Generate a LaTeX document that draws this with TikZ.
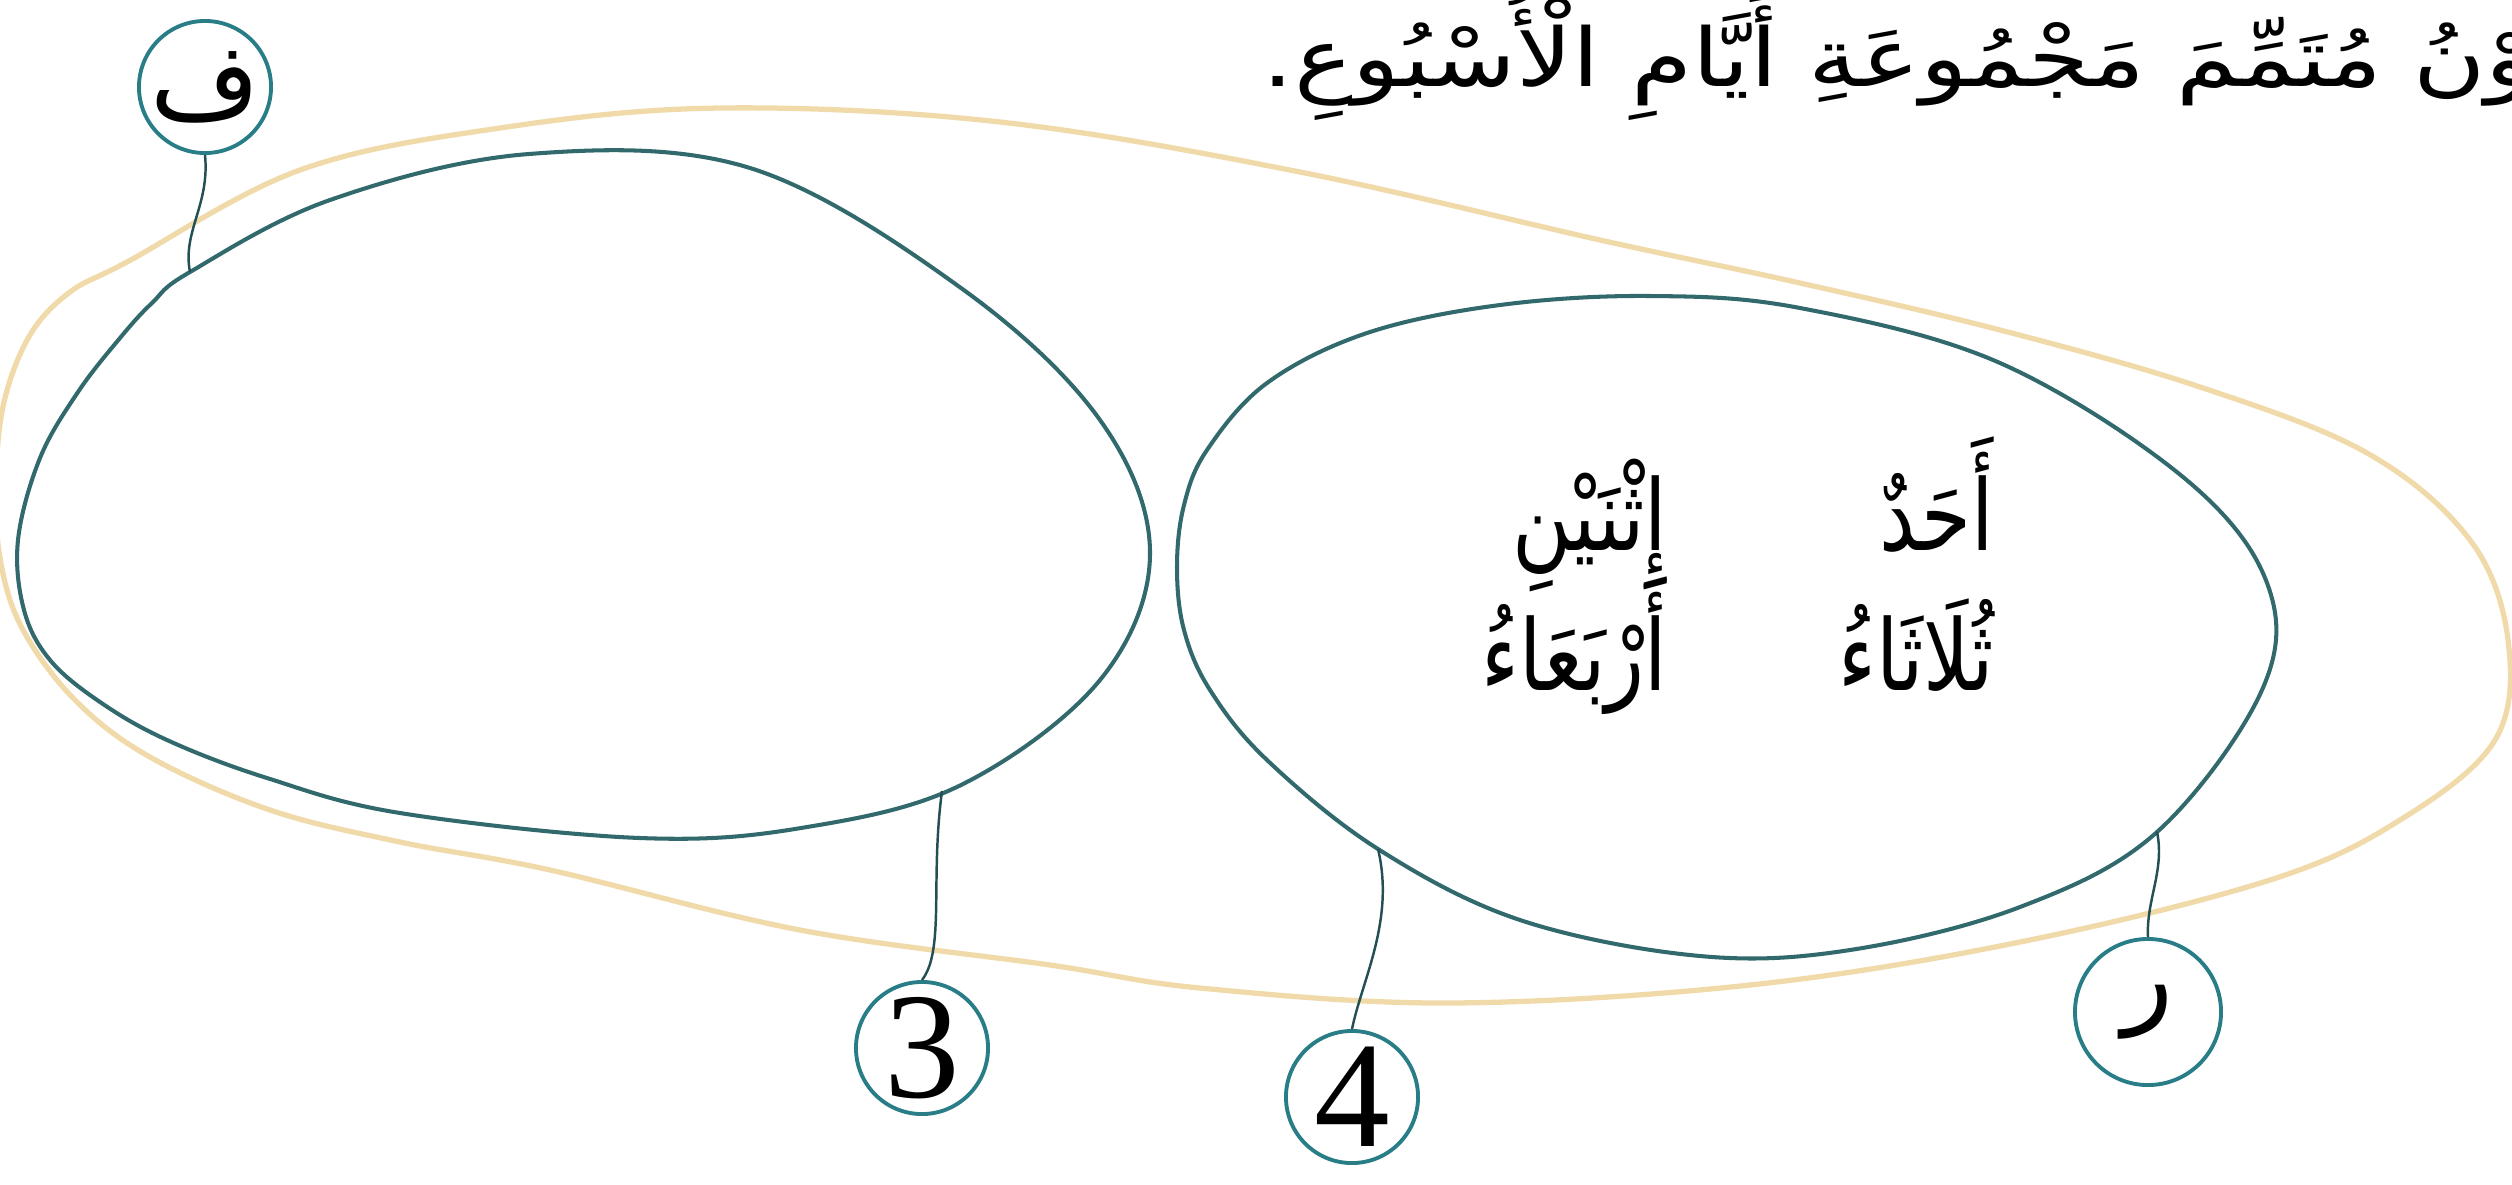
\documentclass[tikz,border=0pt]{standalone}
\usepackage{fontspec}
\newfontfamily\arabicfont[Script=Arabic]{DejaVu Sans}
\newfontfamily\headfont[Script=Arabic, FakeStretch=1.22]{DejaVu Sans}
\newfontfamily\wordfont[Script=Arabic, FakeStretch=0.82]{DejaVu Sans}
\newfontfamily\tagfont{Liberation Serif}
\TeXXeTstate=1
\usetikzlibrary{positioning}

\definecolor{ringteal}{RGB}{50,105,108}
\definecolor{tagteal}{RGB}{40,125,135}
\definecolor{hulltan}{RGB}{240,218,170}
\definecolor{leadteal}{RGB}{35,80,85}

\begin{document}
\begin{tikzpicture}[
  x=0.01cm, y=-0.01cm,
  hull/.style={draw=hulltan, line width=1.5pt},
  ring/.style={draw=ringteal, line width=1.15pt},
  tag/.style={circle, draw=tagteal, line width=1.1pt, minimum size=1.32cm, inner sep=0pt, font=\tagfont\fontsize{43}{43}\selectfont},
  lead/.style={draw=leadteal, line width=0.7pt},
  word/.style={font=\wordfont\fontsize{28}{32}\selectfont, anchor=base east, inner sep=0pt},
  headline/.style={font=\headfont\fontsize{23}{27}\selectfont, anchor=base west, inner sep=0pt}
]
  \useasboundingbox (0,0) rectangle (2512,1184);
  % outer set
  \draw[hull] plot[smooth cycle, tension=0.6] coordinates {(-4,480) (4,402) (30,335) (70,292) (127,262) (300,170) (500,128) (721,108) (1000,122) (1300,172) (1600,240) (1800,283) (2000,330) (2200,387) (2367,453) (2470,540) (2508,640) (2495,740) (2400,820) (2270,880) (2020,942) (1750,985) (1450,1003) (1200,988) (1050,965) (800,930) (550,870) (400,842) (270,810) (150,757) (75,700) (22,628) (0,558)};
  % left (empty) set
  \draw[ring] plot[smooth cycle, tension=0.6] coordinates {(18,540) (40,458) (78,392) (120,338) (152,303) (190,272) (330,200) (529,154) (750,168) (961,288) (1100,420) (1150,553) (1100,680) (961,785) (801,828) (640,838) (400,813) (267,778) (167,740) (100,702) (50,660) (24,610)};
  % right set
  \draw[ring] plot[smooth cycle, tension=0.6] coordinates {(1177,567) (1184,505) (1207,450) (1267,383) (1367,333) (1500,305) (1650,296) (1800,308) (2000,363) (2183,477) (2267,583) (2262,690) (2157,832) (2020,907) (1850,950) (1700,956) (1520,920) (1378,849) (1267,760) (1210,690) (1184,630)};

  \node[headline] (head) at (1262,86) {\beginR وْنُ مُتَمِّمَ مَجْمُوعَةِ أَيَّامِ الْأُسْبُوعِ.\endR};

  \node[word] (ahad)     at (1995,550) {\beginR أَحَدٌ\endR};
  \node[word] (ithnayn)  at (1668,550) {\beginR إِثْنَيْنِ\endR};
  \node[word] (thulatha) at (1995,690) {\beginR ثُلَاثَاءُ\endR};
  \node[word] (arbiaa)   at (1668,690) {\beginR أَرْبَعَاءُ\endR};

  \node[tag] (fa)    at (205,87)    {\arabicfont\fontsize{30}{30}\selectfont ف};
  \node[tag] (three) at (922,1048)  {3};
  \node[tag] (four)  at (1352,1097) {4};
  \node[tag, minimum size=1.46cm] (ra) at (2148,1012) {\arabicfont\fontsize{30}{30}\selectfont ر};

  \coordinate (faEnd)    at (190,272);
  \coordinate (threeEnd) at (942,791);
  \coordinate (fourEnd)  at (1378,849);
  \coordinate (raEnd)    at (2157,832);

  \draw[lead] (fa.south) .. controls (210,205) and (182,232) .. (faEnd);
  \draw[lead] (three.north) .. controls (945,950) and (930,880) .. (threeEnd);
  \draw[lead] (four.north) .. controls (1362,980) and (1395,920) .. (fourEnd);
  \draw[lead] (ra.north) .. controls (2146,900) and (2165,870) .. (raEnd);
\end{tikzpicture}
\end{document}
